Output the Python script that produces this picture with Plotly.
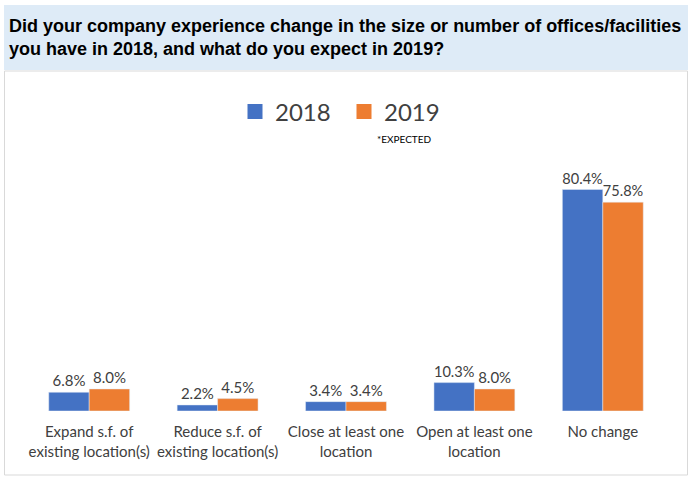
import plotly.graph_objects as go

categories = [
    "Expand s.f. of<br>existing location(s)",
    "Reduce s.f. of<br>existing location(s)",
    "Close at least one<br>location",
    "Open at least one<br>location",
    "No change",
]
values_2018 = [6.8, 2.2, 3.4, 10.3, 80.4]
values_2019 = [8.0, 4.5, 3.4, 8.0, 75.8]
series_names = ["2018", "2019"]

W, H = 692, 479
L, R, T, B = 25, 25, 163, 68
PW, PH = W - L - R, H - T - B


def px(x):
    return (x - L) / PW


def py(y):
    return (H - B - y) / PH


blue = "#4472C4"
orange = "#ED7D31"
text_col = "#404040"

fig = go.Figure()
for name, vals, col in zip(series_names, [values_2018, values_2019], [blue, orange]):
    fig.add_trace(go.Bar(x=categories, y=vals, name=name, marker_color=col,
                         text=[f"{v:.1f}%" for v in vals], textposition="outside",
                         textfont=dict(size=15, color=text_col), cliponaxis=False,
                         showlegend=False))
# legend-only entries with a slightly larger square symbol
for name, col in zip(series_names, [blue, orange]):
    fig.add_trace(go.Scatter(x=[None], y=[None], mode="markers", name=name,
                             marker=dict(symbol="square", size=15, color=col)))

fig.update_layout(
    width=W, height=H,
    margin=dict(l=L, r=R, t=T, b=B),
    barmode="group", bargap=0.37, bargroupgap=0,
    plot_bgcolor="white", paper_bgcolor="white",
    font=dict(family="Lato", color=text_col),
    showlegend=True,
    legend=dict(orientation="h", x=px(344), xanchor="center", y=py(112), yanchor="middle",
                font=dict(size=24, color=text_col), itemwidth=30, traceorder="normal",
                entrywidth=64),
)
fig.update_xaxes(showline=False, showgrid=False, ticks="", ticklabelstandoff=10,
                 tickfont=dict(size=15, color=text_col))
fig.update_yaxes(range=[0, 90], visible=False)

# title band and chart border
fig.add_shape(type="rect", xref="paper", yref="paper",
              x0=px(4), x1=px(688), y0=py(70), y1=py(5),
              fillcolor="#DEEBF7", line=dict(width=0), layer="below")
fig.add_shape(type="rect", xref="paper", yref="paper",
              x0=px(4.5), x1=px(687.5), y0=py(475), y1=py(71),
              fillcolor="rgba(0,0,0,0)", line=dict(width=1, color="#D9D9D9"))

fig.add_annotation(xref="paper", yref="paper", x=px(7), y=py(38), xanchor="left", yanchor="middle",
                   text="<b>Did your company experience change in the size or number of offices/facilities<br>"
                        "you have in 2018, and what do you expect in 2019?</b>",
                   showarrow=False, align="left",
                   font=dict(family="Liberation Sans, Arial", size=18, color="black"))
fig.add_annotation(xref="paper", yref="paper", x=px(404), y=py(139), xanchor="center", yanchor="middle",
                   text="*EXPECTED", showarrow=False,
                   font=dict(family="Lato", size=10, color="black"))

fig.write_html("out.html", config={"displayModeBar": False},
               post_script="document.body.style.margin='0';")
